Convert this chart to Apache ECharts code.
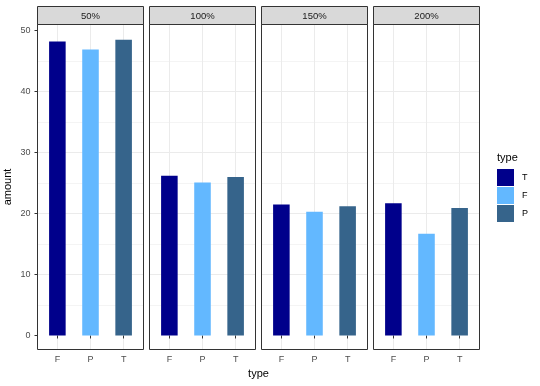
<!DOCTYPE html>
<html>
<head>
<meta charset="utf-8">
<script src="https://cdn.jsdelivr.net/npm/echarts@6/dist/echarts.min.js"></script>
<style>html,body{margin:0;padding:0;background:#fff}#c{width:540px;height:386px}</style>
</head>
<body>
<div id="c"></div>
<script>
// ---- data ----
const facets = ['50%', '100%', '150%', '200%'];
const categories = ['F', 'P', 'T'];
const amount50 = [48.2, 46.9, 48.5];
const amount100 = [26.2, 25.1, 26.0];
const amount150 = [21.5, 20.3, 21.2];
const amount200 = [21.7, 16.7, 20.9];
const yTicks = [0, 10, 20, 30, 40, 50];
const legendNames = ['T', 'F', 'P'];
const legendTitle = 'type';
const xTitle = 'type';
const yTitle = 'amount';

// ---- styles ----
const barColors = ['#00008B', '#63B8FF', '#36648B'];
const legendColors = ['#00008B', '#63B8FF', '#36648B'];
const panelData = [amount50, amount100, amount150, amount200];
const FONT = 'Liberation Sans, Arial, sans-serif';
const panelLefts = [37.5, 149.5, 261.5, 373.5];
const panelW = 106, panelTop = 24.5, panelH = 325, stripTop = 6.5;
const yMin = -2.3, yMax = 51.0;

const grids = [], xAxes = [], yAxes = [], series = [], graphics = [];
facets.forEach((f, k) => {
  grids.push({left: panelLefts[k], top: panelTop, width: panelW, height: panelH, show: false, containLabel: false});
  xAxes.push({
    type: 'value', gridIndex: k, min: 0.4, max: 3.6,
    axisLine: {show: false},
    axisTick: {show: true, length: 3, lineStyle: {color: '#333333'}, customValues: [1, 2, 3]},
    axisLabel: {show: true, customValues: [1, 2, 3], margin: 6, fontSize: 9, color: '#4D4D4D', fontFamily: FONT,
      formatter: v => categories[Math.round(v) - 1] || ''},
    splitLine: {show: true, lineStyle: {color: '#EBEBEB', width: 1}},
    minorSplitLine: {show: false}
  });
  yAxes.push({
    type: 'value', gridIndex: k, min: yMin, max: yMax,
    axisLine: {show: false},
    axisTick: {show: k === 0, length: 3, lineStyle: {color: '#333333'}, customValues: yTicks},
    axisLabel: {show: k === 0, customValues: yTicks, margin: 7, fontSize: 9, color: '#4D4D4D', fontFamily: FONT},
    splitLine: {show: true, showMinLine: false, showMaxLine: false, lineStyle: {color: '#EBEBEB', width: 1}},
    minorTick: {show: false, splitNumber: 2},
    minorSplitLine: {show: true, lineStyle: {color: '#F4F4F4', width: 1}},
    name: k === 0 ? yTitle : '', nameLocation: 'middle', nameGap: 24,
    nameTextStyle: {fontSize: 11, color: '#000', fontFamily: FONT}
  });
  series.push({
    type: 'bar', xAxisIndex: k, yAxisIndex: k, barWidth: '50%', silent: true,
    data: categories.map((c, i) => ({value: [i + 1, panelData[k][i]], itemStyle: {color: barColors[i]}}))
  });
  graphics.push({
    type: 'rect', shape: {x: panelLefts[k], y: stripTop, width: panelW, height: panelTop - stripTop},
    style: {fill: '#D9D9D9', stroke: '#333333', lineWidth: 1}, z: 100
  });
  graphics.push({
    type: 'text', x: panelLefts[k] + panelW / 2, y: (stripTop + panelTop) / 2 + 0.5,
    style: {text: f, fill: '#1A1A1A', fontSize: 9.5, fontFamily: FONT, textAlign: 'center', textVerticalAlign: 'middle'}, z: 101
  });
  graphics.push({
    type: 'rect', shape: {x: panelLefts[k], y: panelTop, width: panelW, height: panelH},
    style: {fill: 'none', stroke: '#333333', lineWidth: 1}, z: 100, silent: true
  });
});

legendNames.forEach((n, i) => {
  series.push({type: 'scatter', name: n, xAxisIndex: 0, yAxisIndex: 0, data: [],
    itemStyle: {color: legendColors[i], opacity: 1}});
});

graphics.push({
  type: 'text', x: (panelLefts[0] + panelLefts[3] + panelW) / 2, y: 374,
  style: {text: xTitle, fill: '#000', fontSize: 11, fontFamily: FONT, textAlign: 'center', textVerticalAlign: 'middle'}
});
graphics.push({
  type: 'text', x: 497, y: 158,
  style: {text: legendTitle, fill: '#000', fontSize: 11, fontFamily: FONT, textAlign: 'left', textVerticalAlign: 'middle'}
});

const chart = echarts.init(document.getElementById('c'), null, {renderer: 'canvas'});
chart.setOption({
  animation: false,
  backgroundColor: '#fff',
  textStyle: {fontFamily: FONT},
  grid: grids, xAxis: xAxes, yAxis: yAxes, series: series,
  legend: {
    data: legendNames, orient: 'vertical', left: 497, top: 169, padding: 0,
    itemWidth: 17, itemHeight: 17, itemGap: 1, icon: 'rect', selectedMode: false,
    itemStyle: {opacity: 1},
    textStyle: {fontSize: 9, color: '#000', fontFamily: FONT, padding: [0, 0, 0, 3]}
  },
  graphic: graphics
});
</script>
</body>
</html>
